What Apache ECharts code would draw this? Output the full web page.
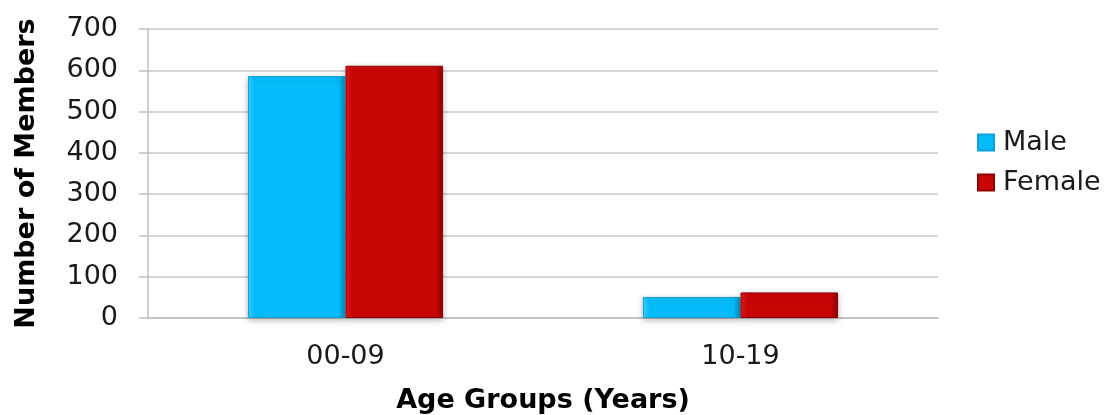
<!DOCTYPE html>
<html><head><meta charset="utf-8">
<script src="https://cdn.jsdelivr.net/npm/echarts@6/dist/echarts.min.js"></script>
<style>html,body{margin:0;padding:0;background:#fff}#c{width:1114px;height:415px}</style>
</head><body><div id="c"></div>
<script>
var categories = ['00-09', '10-19'];
var maleValues = [586, 51];
var femaleValues = [611, 62];
var yTicks = [0, 100, 200, 300, 400, 500, 600, 700];

var FONT = '"DejaVu Sans", sans-serif';
function grad(c1, c2, c3) {
  return new echarts.graphic.LinearGradient(0, 0, 1, 0, [
    {offset: 0, color: c1}, {offset: 0.07, color: c2}, {offset: 0.93, color: c2}, {offset: 1, color: c3}
  ]);
}
var chart = echarts.init(document.getElementById('c'));
chart.setOption({
  animation: false,
  grid: {left: 148, right: 176, top: 29, bottom: 97, containLabel: false, outerBoundsMode: 'none'},
  legend: {
    orient: 'vertical', left: 977, top: 129, itemWidth: 16, itemHeight: 16, itemGap: 13,
    icon: 'rect', padding: 0,
    textStyle: {fontFamily: FONT, fontSize: 27, color: '#1a1a1a', padding: [0, 0, 0, 4]},
    data: ['Male', 'Female']
  },
  xAxis: {
    type: 'category', data: categories,
    name: 'Age Groups (Years)', nameLocation: 'middle', nameGap: 69,
    nameTextStyle: {fontFamily: FONT, fontSize: 27, fontWeight: 'bold', color: '#000'},
    axisLine: {lineStyle: {color: '#bfbfbf', width: 1.5}},
    axisTick: {length: 9, lineStyle: {color: '#bfbfbf', width: 1.5}},
    axisLabel: {fontFamily: FONT, fontSize: 27, color: '#1a1a1a', margin: 25}
  },
  yAxis: {
    type: 'value', min: yTicks[0], max: yTicks[yTicks.length - 1], interval: 100,
    name: 'Number of Members', nameLocation: 'middle', nameGap: 108,
    nameTextStyle: {fontFamily: FONT, fontSize: 27, fontWeight: 'bold', color: '#000'},
    axisLine: {show: true, lineStyle: {color: '#bfbfbf', width: 1.5}},
    axisTick: {show: true, length: 9, lineStyle: {color: '#bfbfbf', width: 1.5}},
    axisLabel: {fontFamily: FONT, fontSize: 27, color: '#1a1a1a', margin: 30},
    splitLine: {lineStyle: {color: '#c8c8c8', width: 1.5}}
  },
  series: [
    {name: 'Male', type: 'bar', data: maleValues, barGap: '0%', barCategoryGap: '50.6%',
     itemStyle: {color: grad('#3fd4ff', '#05bcfb', '#0495c8'), borderColor: '#0a9fd6', borderWidth: 1,
       shadowColor: 'rgba(0,0,0,0.25)', shadowBlur: 6, shadowOffsetY: 2}},
    {name: 'Female', type: 'bar', data: femaleValues,
     itemStyle: {color: grad('#e51a1a', '#c80606', '#8a0000'), borderColor: '#900000', borderWidth: 1,
       shadowColor: 'rgba(0,0,0,0.25)', shadowBlur: 6, shadowOffsetY: 2}}
  ]
});
</script></body></html>
